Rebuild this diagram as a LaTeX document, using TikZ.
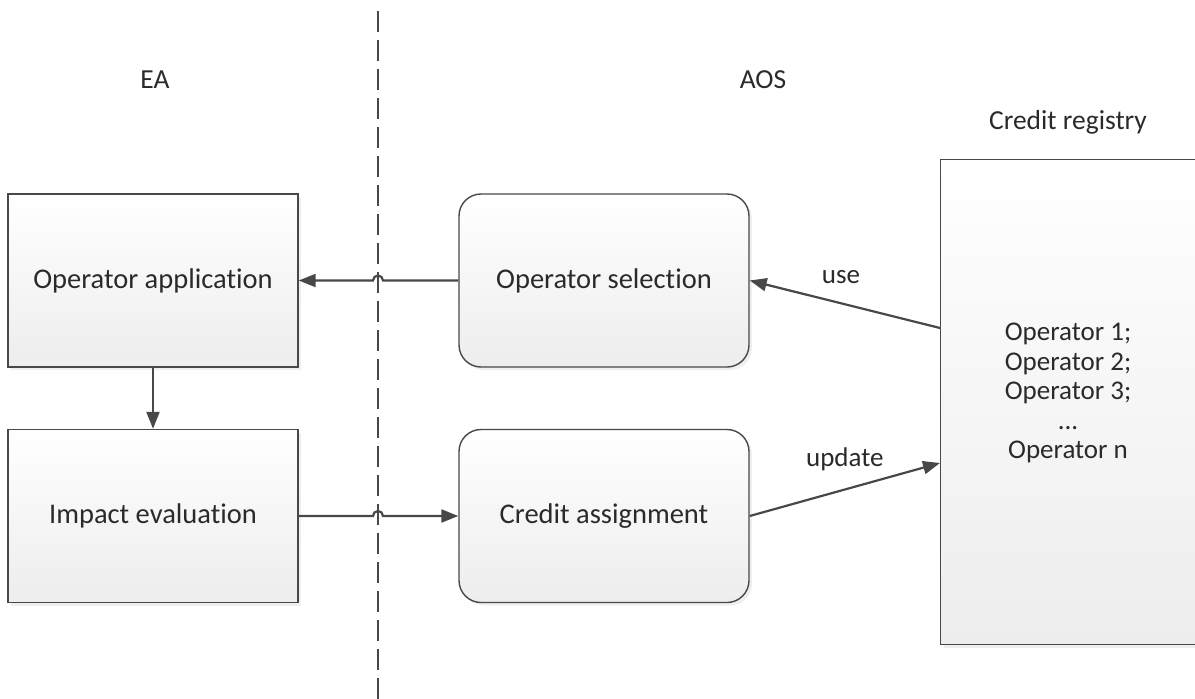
\documentclass[tikz,border=0pt]{standalone}
\usepackage{fontspec}
\setmainfont{Carlito}[Ligatures={NoCommon}]
\usetikzlibrary{arrows.meta,shadows}
\definecolor{edge}{HTML}{484848}
\definecolor{txt}{HTML}{2A2A2A}
\definecolor{shade}{HTML}{EDEDED}
\begin{document}
\begin{tikzpicture}[x=1pt,y=-1pt,
  font=\fontsize{28.5}{34}\selectfont, text=txt,
  box/.style={draw=edge, line width=1.4pt, minimum width=290pt, minimum height=173pt,
    top color=white, bottom color=shade, drop shadow={shadow xshift=3pt, shadow yshift=-3pt, fill=black!12}},
  rbox/.style={box, rounded corners=22pt},
  conn/.style={draw=edge, line width=2.2pt, -{Triangle[length=17pt,width=13pt]}},
  lbl/.style={font=\fontsize{27.5}{32}\selectfont}]
\clip (0,0) rectangle (1195,699);
\useasboundingbox (0,0) rectangle (1195,699);
% separator
\draw[edge, line width=1.6pt, dash pattern=on 21pt off 8pt] (378,11) -- (378,699);
% titles
\node[lbl] (ea) at (155,80) {EA};
\node[lbl] (aos) at (763,80) {AOS};
\node[lbl] (cr) at (1068,122) {Credit registry};
% boxes
\node[box] (opapp) at (153,280.5) {Operator application};
\node[box] (impact) at (153,516) {Impact evaluation};
\node[rbox] (opsel) at (604,280.5) {Operator selection};
\node[rbox] (credit) at (604,516) {Credit assignment};
\node[box, minimum width=300pt, minimum height=485pt, anchor=north west] (reg) at (940,159) {};
\node[align=center, font=\fontsize{27}{29.5}\selectfont] (ops) at (1068,393) {Operator 1;\\Operator 2;\\Operator 3;\\...\\Operator n};
% connectors
\draw[conn] (opsel.west) -- (383,280.5) arc[start angle=0, end angle=180, radius=5pt] -- (opapp.east);
\draw[conn] (opapp.south) -- (impact.north);
\draw[conn] (impact.east) -- (373,516) arc[start angle=180, end angle=0, radius=5pt] -- (credit.west);
\coordinate (regUse) at (940,328);
\coordinate (regUpd) at (940,463);
\draw[conn] (regUse) -- node[above=15pt, pos=0.52, font=\fontsize{27}{30}\selectfont] (use) {use} (opsel.east);
\draw[conn] (credit.east) -- node[above=14pt, pos=0.5, font=\fontsize{27}{30}\selectfont] (upd) {update} (regUpd);
\end{tikzpicture}
\end{document}
